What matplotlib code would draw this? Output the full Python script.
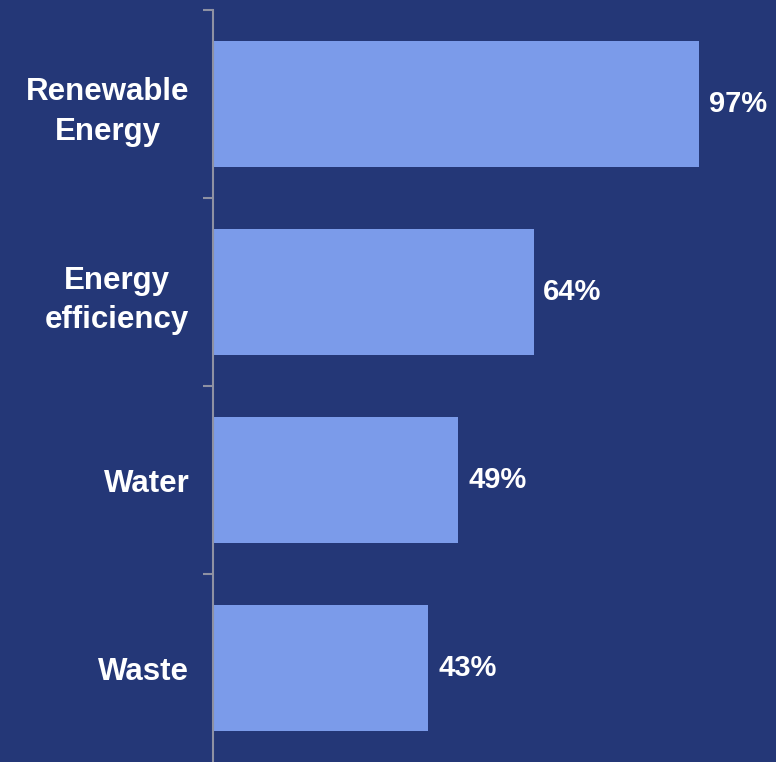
import matplotlib
matplotlib.use("Agg")
import matplotlib.pyplot as plt

categories = ["Renewable\nEnergy", "Energy\nefficiency", "Water", "Waste"]
values = [97, 64, 49, 43]
value_labels = ["97%", "64%", "49%", "43%"]

BG = "#243777"
BAR = "#7B9BEA"
AXIS = "#8E91A3"

plt.rcParams['font.family'] = ['Liberation Sans', 'DejaVu Sans']

fig = plt.figure(figsize=(7.76, 7.62), dpi=100, facecolor=BG)
ax = fig.add_axes([213/776, 0, (776-213)/776, 752/762])
ax.set_facecolor(BG)

y = list(range(len(categories)))
ax.barh(y, values, height=0.675, color=BAR, zorder=2)
ax.set_xlim(0, 112.4)
ax.set_ylim(3.5, -0.5)

for yi, v, lab in zip(y, values, value_labels):
    ax.annotate(lab, xy=(v, yi), xytext=(7, 0), textcoords='offset points',
                ha='left', va='center', color='white', fontsize=21,
                fontweight='bold')

for s in ['top', 'right', 'bottom']:
    ax.spines[s].set_visible(False)
ax.spines['left'].set_color(AXIS)
ax.spines['left'].set_linewidth(1.5)
ax.spines['left'].set_zorder(3)

ax.set_xticks([])
ax.set_yticks(y)
ax.set_yticklabels(categories, color='white', fontsize=22.5, fontweight='bold',
                   multialignment='center', linespacing=1.42)
ax.tick_params(axis='y', which='major', length=0, pad=17)
ax.set_yticks([-0.5, 0.5, 1.5, 2.5], minor=True)
ax.tick_params(axis='y', which='minor', length=7, width=1.5, color=AXIS, direction='out')

fig.savefig("out.png", dpi=100, facecolor=BG)
